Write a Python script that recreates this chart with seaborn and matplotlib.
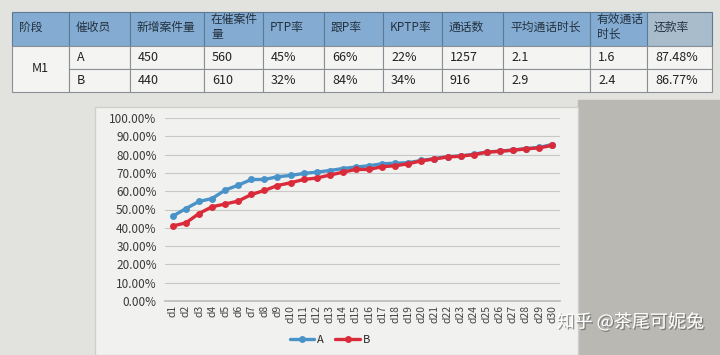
import matplotlib
matplotlib.use("Agg")
import matplotlib.pyplot as plt
import matplotlib.patches as mpatches
import matplotlib.patheffects as pe
import pandas as pd
import seaborn as sns

# table data
headers = ["阶段", "催收员", "新增案件量", "在催案件\n量", "PTP率", "跟P率", "KPTP率",
           "通话数", "平均通话时长", "有效通话\n时长", "还款率"]
row_a = ["A", "450", "560", "45%", "66%", "22%", "1257", "2.1", "1.6", "87.48%"]
row_b = ["B", "440", "610", "32%", "84%", "34%", "916", "2.9", "2.4", "86.77%"]
stage = "M1"

# chart data
days = ["d" + str(i) for i in range(1, 31)]
rate_a = [46.4, 50.5, 54.4, 56.0, 60.6, 63.3, 66.4, 66.4, 67.9, 68.6,
          69.7, 70.4, 71.3, 72.4, 73.2, 73.9, 75.0, 75.3, 75.6, 76.8,
          77.8, 78.9, 79.3, 80.2, 81.4, 81.9, 82.5, 83.3, 83.9, 85.5]
rate_b = [41.0, 42.7, 47.8, 51.5, 53.0, 54.6, 58.2, 60.4, 63.1, 64.6,
          66.4, 67.2, 68.8, 70.4, 71.9, 71.9, 73.4, 73.9, 75.0, 76.6,
          77.6, 78.7, 79.1, 80.0, 81.3, 81.8, 82.4, 83.1, 83.7, 85.0]

sns.set_theme(style="white")
plt.rcParams['font.family'] = ['Noto Sans CJK SC', 'DejaVu Sans']

W, H = 720, 355
fig = plt.figure(figsize=(7.2, 3.55), dpi=100, facecolor="#e2e2df")

# background in pixel coords
bg = fig.add_axes([0, 0, 1, 1])
bg.set_xlim(0, W)
bg.set_ylim(H, 0)
bg.axis("off")
bg.add_patch(mpatches.Rectangle((578, 100), 142, 255, color="#b9b8b3", zorder=0))
bg.add_patch(mpatches.Rectangle((95, 107), 483, 248, color="#f1f1ef", ec="#cfcfcc", lw=1, zorder=1))

# table
col_x = [12, 69, 130, 204, 263, 324, 383, 442, 503, 590, 647, 712]
row_y = [12, 46, 69, 92]
hdr_col = "#84acd3"
for i, h in enumerate(headers):
    x0, x1 = col_x[i], col_x[i + 1]
    fc = "#a9bccb" if i == len(headers) - 1 else hdr_col
    bg.add_patch(mpatches.Rectangle((x0, row_y[0]), x1 - x0, row_y[1] - row_y[0],
                                    fc=fc, ec="#5d7a94", lw=0.8, zorder=2))
    bg.text(x0 + 7, (row_y[0] + row_y[1]) / 2 - 2, h, fontsize=8.5, color="#24323f",
            va="center", ha="left", linespacing=1.25, zorder=3)
bg.add_patch(mpatches.Rectangle((col_x[0], row_y[1]), col_x[1] - col_x[0], row_y[3] - row_y[1],
                                fc="#f4f4f3", ec="#8a8f95", lw=0.8, zorder=2))
bg.text((col_x[0] + col_x[1]) / 2, (row_y[1] + row_y[3]) / 2, stage, fontsize=9,
        color="#222222", va="center", ha="center", zorder=3)
for r, row in enumerate([row_a, row_b]):
    y0, y1 = row_y[r + 1], row_y[r + 2]
    for j, v in enumerate(row):
        x0, x1 = col_x[j + 1], col_x[j + 2]
        bg.add_patch(mpatches.Rectangle((x0, y0), x1 - x0, y1 - y0,
                                        fc="#f4f4f3", ec="#8a8f95", lw=0.8, zorder=2))
        bg.text(x0 + 8, (y0 + y1) / 2, v, fontsize=9, color="#222222",
                va="center", ha="left", zorder=3)

# line chart
df = pd.DataFrame({
    "day": days * 2,
    "rate": rate_a + rate_b,
    "who": ["A"] * len(days) + ["B"] * len(days),
})
ax = fig.add_axes([165 / W, 1 - 301 / H, 395 / W, 183 / H])
ax.set_facecolor("none")
sns.lineplot(data=df, x="day", y="rate", hue="who", palette={"A": "#4a93c9", "B": "#d92b3a"},
             marker="o", markersize=5, markeredgewidth=0, linewidth=2.4, ax=ax, sort=False)
ax.set_ylim(0, 100)
ax.set_yticks(range(0, 101, 10))
ax.set_yticklabels([f"{v:.2f}%" for v in range(0, 101, 10)], fontsize=8.5, color="#3a3a3a")
ax.set_xlim(-0.6, len(days) - 0.4)
ax.tick_params(axis="x", labelrotation=90, labelsize=7.5, colors="#444444", length=0, pad=3)
ax.tick_params(axis="y", length=0, pad=6)
ax.grid(axis="y", color="#c8c8c6", lw=0.8)
ax.set_axisbelow(True)
for s in ["top", "right", "left"]:
    ax.spines[s].set_visible(False)
ax.spines["bottom"].set_color("#bdbdbb")
ax.set_xlabel("")
ax.set_ylabel("")
ax.get_legend().remove()
handles, labels = ax.get_legend_handles_labels()
fig.legend(handles, labels, loc="center", bbox_to_anchor=(330 / W, 1 - 340 / H), ncol=2,
           frameon=False, fontsize=8, handlelength=2.2, columnspacing=1.0, handletextpad=0.3)

# watermark
bg.text(630, 322, "知乎 @茶尾可妮兔", fontsize=13, color="white", ha="center", va="center",
        zorder=5, path_effects=[pe.withSimplePatchShadow(offset=(1, -1), shadow_rgbFace="#555555", alpha=0.6)])

fig.savefig("out.png", dpi=100, facecolor=fig.get_facecolor())
